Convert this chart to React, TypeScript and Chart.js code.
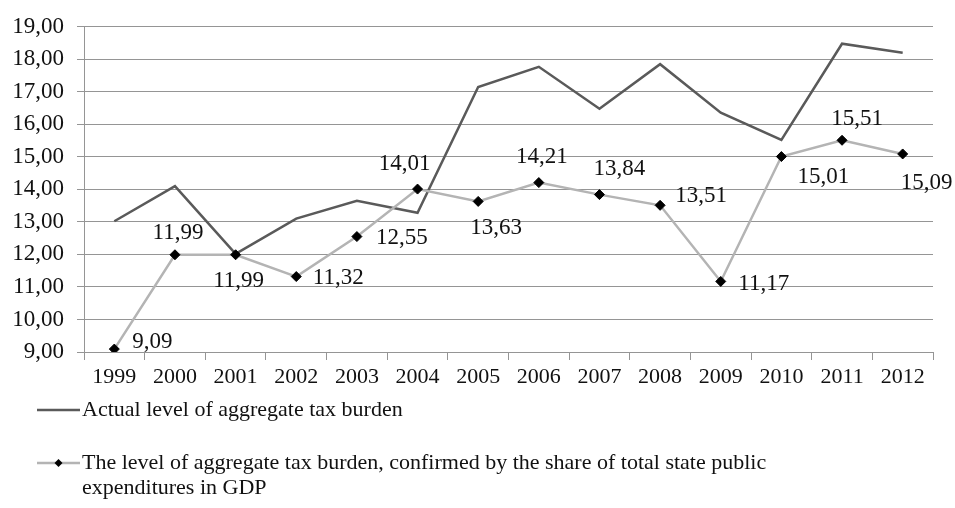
import React, { useEffect, useRef } from "react";
import { Chart, registerables } from "chart.js";

Chart.register(...registerables);

const years: string[] = ["1999","2000","2001","2002","2003","2004","2005","2006","2007","2008","2009","2010","2011","2012"];
const actualBurden: number[] = [13.02, 14.1, 12.02, 13.1, 13.65, 13.28, 17.15, 17.77, 16.48, 17.85, 16.36, 15.52, 18.48, 18.2];
const confirmedBurden: number[] = [9.09, 11.99, 11.99, 11.32, 12.55, 14.01, 13.63, 14.21, 13.84, 13.51, 11.17, 15.01, 15.51, 15.09];
const seriesNames: string[] = [
  "Actual level of aggregate tax burden",
  "The level of aggregate tax burden, confirmed by the share of total state public expenditures in GDP",
];
const yMin = 9;
const yMax = 19;
const yStep = 1;

// label placement relative to each point (style, not data)
const labelOffsets: [number, number][] = [
  [38, -7], [3, -22], [3, 26], [42, 1], [45, 1], [-13, -25], [18, 27],
  [3, -26], [20, -26], [41, -9], [43, 3], [42, 20], [15, -21], [24, 29],
];

const FONT = "'Liberation Serif', 'Times New Roman', serif";
const DARK = "#5a5a5a";
const LIGHT = "#b4b4b4";
const GRID = "#959595";

const fmt = (v: number) => v.toFixed(2).replace(".", ",");

const dataLabelPlugin = {
  id: "dataLabels",
  afterDatasetsDraw(chart: any) {
    const ctx = chart.ctx;
    const meta = chart.getDatasetMeta(1);
    ctx.save();
    ctx.font = `23px ${FONT}`;
    ctx.fillStyle = "#111";
    ctx.textAlign = "center";
    ctx.textBaseline = "middle";
    meta.data.forEach((pt: any, i: number) => {
      const [dx, dy] = labelOffsets[i] || [0, -20];
      ctx.fillText(fmt(confirmedBurden[i]), pt.x + dx, pt.y + dy);
    });
    ctx.restore();
  },
};

const legendPlugin = {
  id: "customLegend",
  afterDraw(chart: any) {
    const ctx = chart.ctx;
    ctx.save();
    ctx.font = `22px ${FONT}`;
    ctx.fillStyle = "#111";
    ctx.textAlign = "left";
    ctx.textBaseline = "middle";
    const x0 = 37, x1 = 80, tx = 82;
    // item 1
    let y = 410;
    ctx.strokeStyle = DARK;
    ctx.lineWidth = 2.5;
    ctx.beginPath();
    ctx.moveTo(x0, y);
    ctx.lineTo(x1, y);
    ctx.stroke();
    ctx.fillText(seriesNames[0], tx, y);
    // item 2
    y = 463;
    ctx.strokeStyle = LIGHT;
    ctx.lineWidth = 2.5;
    ctx.beginPath();
    ctx.moveTo(x0, y);
    ctx.lineTo(x1, y);
    ctx.stroke();
    const cx = (x0 + x1) / 2;
    ctx.fillStyle = "#000";
    ctx.beginPath();
    ctx.moveTo(cx - 4, y);
    ctx.lineTo(cx, y - 4);
    ctx.lineTo(cx + 4, y);
    ctx.lineTo(cx, y + 4);
    ctx.closePath();
    ctx.fill();
    ctx.fillStyle = "#111";
    const words = seriesNames[1].split(" ");
    const maxW = 710;
    let line = "";
    const lines: string[] = [];
    for (const w of words) {
      const test = line ? line + " " + w : w;
      if (ctx.measureText(test).width > maxW && line) {
        lines.push(line);
        line = w;
      } else line = test;
    }
    if (line) lines.push(line);
    lines.forEach((l, i) => ctx.fillText(l, tx, y + i * 25));
    ctx.restore();
  },
};

export default function App() {
  const ref = useRef<HTMLCanvasElement | null>(null);
  useEffect(() => {
    if (!ref.current) return;
    const chart = new Chart(ref.current, {
      type: "line",
      data: {
        labels: years,
        datasets: [
          {
            label: seriesNames[0],
            data: actualBurden,
            borderColor: DARK,
            backgroundColor: DARK,
            borderWidth: 2.5,
            pointRadius: 0,
            tension: 0,
            order: 2,
          },
          {
            label: seriesNames[1],
            data: confirmedBurden,
            borderColor: LIGHT,
            backgroundColor: "#000",
            borderWidth: 2.5,
            pointStyle: "rectRot",
            pointRadius: 5,
            pointBorderColor: "#000",
            pointBackgroundColor: "#000",
            pointBorderWidth: 1,
            tension: 0,
            order: 1,
          },
        ],
      },
      options: {
        responsive: false,
        animation: false,
        layout: { padding: { top: 22, right: 22, left: 0, bottom: 0 } },
        plugins: {
          legend: { display: false },
          tooltip: { enabled: false },
        },
        scales: {
          x: {
            type: "category",
            offset: true,
            afterFit: (s: any) => { s.height = 156; },
            grid: {
              offset: true,
              drawOnChartArea: false,
              drawTicks: true,
              tickLength: 8,
              color: GRID,
              lineWidth: 1,
            },
            border: { display: true, color: GRID, width: 1 },
            ticks: {
              color: "#111",
              font: { family: FONT, size: 22 },
              padding: 4,
              maxRotation: 0,
              autoSkip: false,
            },
          },
          y: {
            min: yMin,
            max: yMax,
            afterFit: (s: any) => { s.width = 84; },
            grid: {
              color: GRID,
              lineWidth: 1,
              drawTicks: true,
              tickLength: 7,
            },
            border: { display: true, color: GRID, width: 1 },
            ticks: {
              stepSize: yStep,
              color: "#111",
              font: { family: FONT, size: 23 },
              padding: 13,
              callback: (v: any) => fmt(Number(v)),
            },
          },
        },
      },
      plugins: [dataLabelPlugin, legendPlugin],
    });
    return () => chart.destroy();
  }, []);
  return (
    <div style={{ position: "absolute", left: 0, top: 0, width: 955, height: 508, background: "#fff" }}>
      <canvas ref={ref} width={955} height={508} />
    </div>
  );
}
